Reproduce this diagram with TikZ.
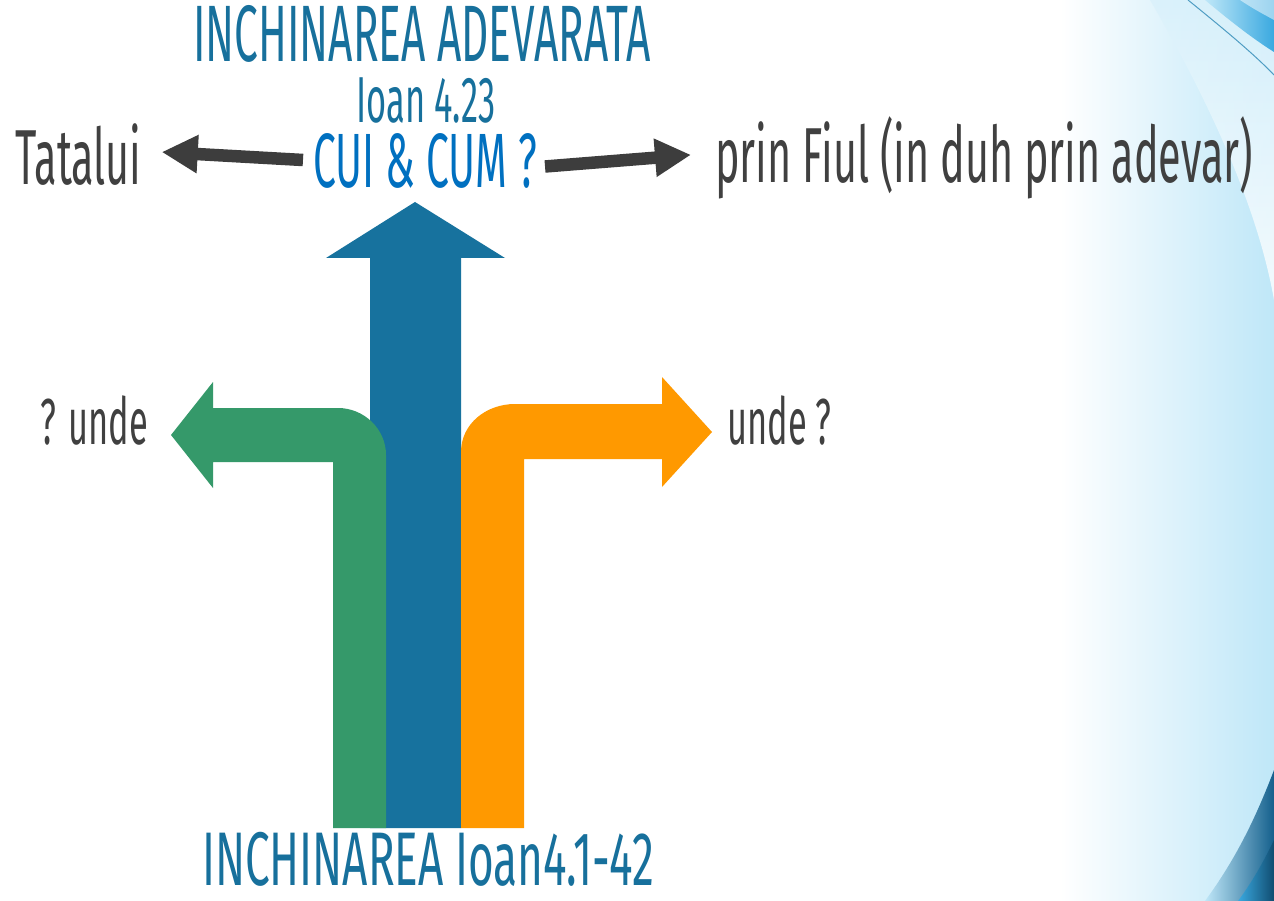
\documentclass[tikz,border=0pt]{standalone}
\usepackage{fontspec}
\setmainfont{Fira Sans}[FakeStretch=0.53]
\newfontfamily\widefont{Fira Sans}[FakeStretch=0.58]
\usepackage{tikz}
\usetikzlibrary{arrows.meta}

\definecolor{titleblue}{HTML}{17709C}
\definecolor{cuiblue}{HTML}{0070C0}
\definecolor{textgray}{HTML}{404040}
\definecolor{arrowgray}{HTML}{3D3D3D}
\definecolor{upblue}{HTML}{17729E}
\definecolor{leftgreen}{HTML}{35996A}
\definecolor{rightorange}{HTML}{FF9900}
\definecolor{glowblue}{HTML}{BFE7F8}
\definecolor{swooshblue}{HTML}{3AA9E0}
\definecolor{deepblue}{HTML}{145F8C}

\begin{document}
\begin{tikzpicture}[x=1pt, y=-1pt,
    heading/.style={anchor=base, inner sep=0pt, text height=55pt, text depth=0pt, text=titleblue, font=\fontsize{80}{80}\selectfont},
    verse/.style={anchor=base, inner sep=0pt, text height=45pt, text depth=0pt, text=titleblue, font=\fontsize{65}{65}\selectfont},
    question/.style={anchor=base, inner sep=0pt, text height=53pt, text depth=0pt, text=cuiblue, font=\fontsize{77}{77}\selectfont},
    sidelabel/.style={anchor=base west, inner sep=0pt, text=textgray, font=\fontsize{78}{78}\selectfont},
    undelabel/.style={anchor=base west, inner sep=0pt, text=textgray, font=\fontsize{65}{65}\selectfont},
    darrow/.style={draw=arrowgray, line width=12.5pt, -{Triangle[length=36pt,width=36pt]}},
]

% Background - glow on the right edge
\useasboundingbox (0,0) rectangle (1274,901);
\fill[white] (0,0) rectangle (1274,901);
\shade[left color=white, right color=glowblue] (1060,0) rectangle (1274,901);
\shade[top color=glowblue!60!white, bottom color=white, opacity=0.8]
    (1274,0) -- (1150,0) .. controls (1220,120) and (1260,220) .. (1274,300) -- cycle;
\shade[left color=glowblue, right color=swooshblue]
    (1205,0) .. controls (1235,25) and (1255,40) .. (1274,52) -- (1274,0) -- cycle;
\fill[white, opacity=0.5]
    (1240,0) .. controls (1255,10) and (1265,15) .. (1274,20) -- (1274,0) -- cycle;
\draw[swooshblue!70!gray, line width=1pt] (1188,0) .. controls (1225,30) and (1255,55) .. (1274,75);
\shade[left color=glowblue, right color=deepblue]
    (1274,770) .. controls (1255,820) and (1235,860) .. (1205,901) -- (1274,901) -- cycle;
\shade[left color=swooshblue, right color=deepblue!80!black]
    (1274,840) .. controls (1262,865) and (1250,885) .. (1238,901) -- (1274,901) -- cycle;

% Big arrows - up, left, right
\fill[upblue] (370,828) -- (370,258) -- (326,258) -- (415,202) -- (505,258) -- (461,258) -- (461,828) -- cycle;
\fill[leftgreen] (333,828) -- (333,462) -- (213,462) -- (213,488) -- (171,435) -- (213,382) -- (213,408)
    -- (338,408) .. controls (364,408) and (386,429) .. (386,455) -- (386,828) -- cycle;
\fill[rightorange] (524,828) -- (524,459) -- (662,459) -- (662,487) -- (712,432) -- (662,377) -- (662,404)
    -- (515,404) .. controls (486,404) and (461,424) .. (461,452) -- (461,828) -- cycle;

% Top - title and question
\node[heading] (title) at (422,62) {INCHINAREA ADEVARATA};
\node[verse] (verse) at (426,123) {Ioan 4.23};
\node[question] (cui) at (425,188) {CUI \& CUM ?};

% Sides
\node[sidelabel] (tatalui) at (15,185) {Tatalui};
\node[sidelabel] (fiul) at (715,183) {prin Fiul (in duh prin adevar)};
\node[undelabel] (undeleft) at (40,444) {? unde};
\node[undelabel] (underight) at (727,444) {unde ?};

% Bottom
\node[heading, font=\widefont\fontsize{76}{76}\selectfont] (bottom) at (428,885) {INCHINAREA Ioan4.1-42};

% Connectors
\draw[darrow] ([xshift=-10pt,yshift=1.5pt]cui.west) -- ([xshift=20pt,yshift=3pt]tatalui.east);
\draw[darrow] ([xshift=8pt,yshift=-5pt]cui.east) -- ([xshift=-24pt,yshift=3.5pt]fiul.west);

\end{tikzpicture}
\end{document}
